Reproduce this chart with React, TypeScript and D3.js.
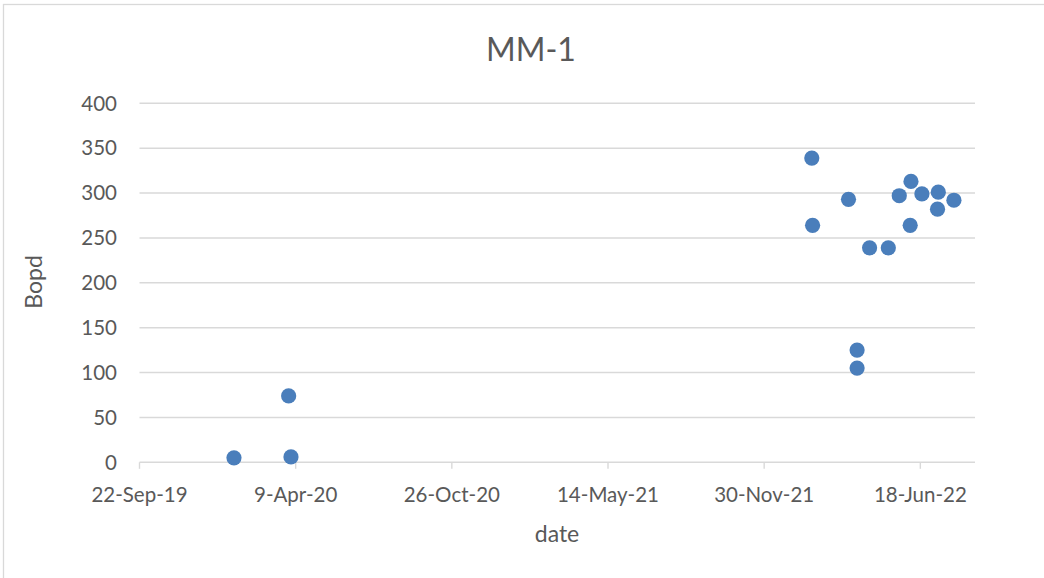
import React from "react";
import * as d3 from "d3";

// MM-1 well test: oil rate (Bopd) by test date
const testDates: string[] = [
  "2020-01-21", "2020-03-31", "2020-04-03",
  "2022-01-30", "2022-01-31", "2022-03-18", "2022-03-29", "2022-03-29",
  "2022-04-14", "2022-05-08", "2022-05-22", "2022-06-05", "2022-06-06",
  "2022-06-20", "2022-07-10", "2022-07-11", "2022-07-31",
];
const bopd: number[] = [
  5, 74, 6,
  339, 264, 293, 125, 105,
  239, 239, 297, 264, 313,
  299, 282, 301, 292,
];

const xTickDates: string[] = [
  "2019-09-22", "2020-04-09", "2020-10-26", "2021-05-14", "2021-11-30", "2022-06-18",
];
const yTicks: number[] = [0, 50, 100, 150, 200, 250, 300, 350, 400];
const xDomain: string[] = ["2019-09-22", "2022-08-27"];

const W = 1044;
const H = 578;
const plot = { left: 139.5, right: 975, top: 103.3, bottom: 462.3 };
const FONT = "Lato, 'Open Sans', sans-serif";
const TEXT = "#595959";
const GRID = "#d9d9d9";
const DOT = "#4a7ebb";

const parse = d3.utcParse("%Y-%m-%d");
const fmt = d3.utcFormat("%-d-%b-%y");

export default function App() {
  const x = d3
    .scaleUtc()
    .domain(xDomain.map((s) => parse(s) as Date))
    .range([plot.left, plot.right]);
  const y = d3.scaleLinear().domain([0, 400]).range([plot.bottom, plot.top]);

  const points = testDates.map((d, i) => ({ date: parse(d) as Date, v: bopd[i] }));

  return (
    <div style={{ position: "absolute", left: 0, top: 0 }}>
      <svg width={W} height={H} style={{ display: "block" }}>
        <rect x={0} y={0} width={W} height={H} fill="#fff" />
        <rect x={3.5} y={4.5} width={W + 20} height={H + 20} fill="none" stroke={GRID} strokeWidth={1.3} />

        <text x={531} y={61} textAnchor="middle" fontFamily={FONT} fontSize={32} fill={TEXT}>
          MM-1
        </text>

        {/* horizontal gridlines */}
        {yTicks.map((t) => (
          <line key={"g" + t} x1={plot.left} x2={plot.right} y1={y(t)} y2={y(t)} stroke={GRID} strokeWidth={1.4} />
        ))}

        {/* y tick labels */}
        {yTicks.map((t) => (
          <text key={"yl" + t} x={117} y={y(t) + 7.3} textAnchor="end" fontFamily={FONT} fontSize={20.5} fill={TEXT}>
            {t}
          </text>
        ))}

        {/* x tick marks and labels */}
        {xTickDates.map((s) => {
          const d = parse(s) as Date;
          const px = x(d);
          return (
            <g key={"x" + s}>
              <line x1={px} x2={px} y1={plot.bottom} y2={plot.bottom + 6.5} stroke={GRID} strokeWidth={1.4} />
              <text x={px} y={501.5} textAnchor="middle" fontFamily={FONT} fontSize={20.5} fill={TEXT}>
                {fmt(d)}
              </text>
            </g>
          );
        })}

        {/* axis titles */}
        <text x={557} y={542} textAnchor="middle" fontFamily={FONT} fontSize={23} fill={TEXT}>
          date
        </text>
        <text
          transform={`translate(41.5,${282}) rotate(-90)`}
          textAnchor="middle"
          fontFamily={FONT}
          fontSize={23}
          fill={TEXT}
        >
          Bopd
        </text>

        {/* data markers */}
        {points.map((p, i) => (
          <circle key={"p" + i} cx={x(p.date)} cy={y(p.v)} r={7.6} fill={DOT} />
        ))}
      </svg>
    </div>
  );
}
